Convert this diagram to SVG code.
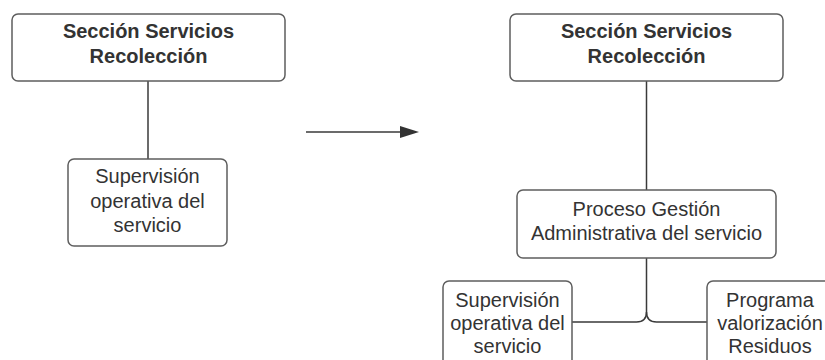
<svg xmlns="http://www.w3.org/2000/svg" width="825" height="360" viewBox="0 0 825 360">
  <defs>
    <style>
      .box { fill: #ffffff; stroke: #5e5e5e; stroke-width: 1.5; }
      .wire { fill: none; stroke: #3a3a3a; stroke-width: 1.5; }
      .lbl { font-family: "Liberation Sans", Arial, sans-serif; font-size: 20px; fill: #333333; text-anchor: middle; }
      .bold { font-weight: bold; }
    </style>
  </defs>
  <rect width="825" height="360" fill="#ffffff"/>

  <!-- connectors -->
  <g id="connectors">
    <line class="wire" x1="148" y1="81" x2="148" y2="159"/>
    <line class="wire" x1="306" y1="132" x2="401" y2="132"/>
    <polygon points="400,126 419,132 400,138" fill="#333333"/>
    <line class="wire" x1="646.5" y1="81" x2="646.5" y2="190"/>
    <path class="wire" d="M646.5,258 V312 Q646.5,322 636.5,322 H572"/>
    <path class="wire" d="M646.5,312 Q646.5,322 656.5,322 H707"/>
  </g>

  <!-- before -->
  <g id="seccion-a">
    <rect class="box" x="12" y="14" width="273" height="67" rx="6"/>
    <text class="lbl bold" x="148.5" y="38">Sección Servicios</text>
    <text class="lbl bold" x="148.5" y="63">Recolección</text>
  </g>
  <g id="supervision-a">
    <rect class="box" x="68" y="159" width="159" height="87" rx="6"/>
    <text class="lbl" x="147.5" y="183">Supervisión</text>
    <text class="lbl" x="147.5" y="208">operativa del</text>
    <text class="lbl" x="147.5" y="232">servicio</text>
  </g>

  <!-- after -->
  <g id="seccion-b">
    <rect class="box" x="510" y="14" width="273" height="67" rx="6"/>
    <text class="lbl bold" x="646.5" y="38">Sección Servicios</text>
    <text class="lbl bold" x="646.5" y="63">Recolección</text>
  </g>
  <g id="proceso">
    <rect class="box" x="517" y="190" width="259" height="68" rx="6"/>
    <text class="lbl" x="646.5" y="216">Proceso Gestión</text>
    <text class="lbl" x="646.5" y="240">Administrativa del servicio</text>
  </g>
  <g id="supervision-b">
    <rect class="box" x="443" y="281" width="129" height="95" rx="6"/>
    <text class="lbl" x="507.5" y="307">Supervisión</text>
    <text class="lbl" x="507.5" y="330">operativa del</text>
    <text class="lbl" x="507.5" y="353">servicio</text>
  </g>
  <g id="programa">
    <rect class="box" x="707" y="281" width="126" height="95" rx="6"/>
    <text class="lbl" x="770" y="307">Programa</text>
    <text class="lbl" x="770" y="330">valorización</text>
    <text class="lbl" x="770" y="353">Residuos</text>
  </g>
</svg>
